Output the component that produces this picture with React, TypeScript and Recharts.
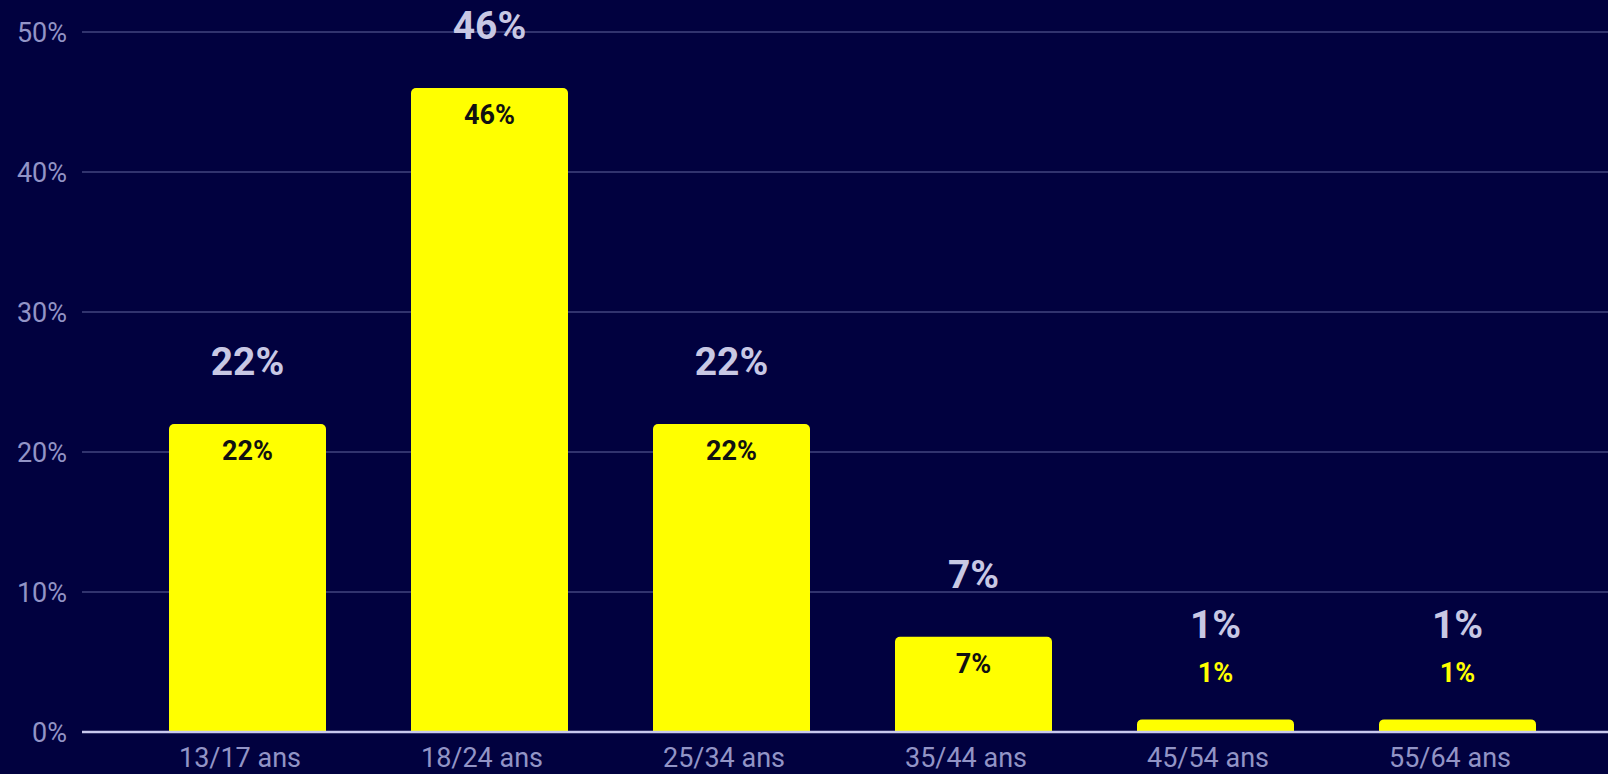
import React from "react";
import {
  BarChart,
  Bar,
  XAxis,
  YAxis,
  CartesianGrid,
  LabelList,
} from "recharts";

const ageGroups = ["13/17 ans", "18/24 ans", "25/34 ans", "35/44 ans", "45/54 ans", "55/64 ans"];
const shares = [22, 46, 22, 6.8, 0.9, 0.9];
const yTicks = [0, 10, 20, 30, 40, 50];

const data = ageGroups.map((name, i) => ({ name, share: shares[i] }));

const BG = "#01013f";
const FONT = "Roboto, sans-serif";

function BarLabels(props: any) {
  const { x, y, width, height, value } = props;
  const cx = x + width / 2;
  const txt = `${Math.round(Number(value))}%`;
  const small = height < 40;
  const innerY = small ? y - 46 : y + 27;
  const bigY = small ? y - 94 : y - 62;
  return (
    <g>
      <text
        x={cx}
        y={bigY}
        textAnchor="middle"
        dominantBaseline="central"
        fill="#c8c8e4"
        fontFamily={FONT}
        fontWeight={700}
        fontSize={39}
      >
        {txt}
      </text>
      <text
        x={cx}
        y={innerY}
        textAnchor="middle"
        dominantBaseline="central"
        fill={small ? "#ffff00" : "#111111"}
        fontFamily={FONT}
        fontWeight={700}
        fontSize={27}
      >
        {txt}
      </text>
    </g>
  );
}

export default function App() {
  return (
    <div style={{ position: "fixed", left: 0, top: 0, width: 1608, height: 774, background: BG }}>
      <BarChart
        width={1608}
        height={774}
        data={data}
        margin={{ top: 32, right: 0, bottom: 0, left: 0 }}
        barSize={157}
      >
        <CartesianGrid vertical={false} stroke="#42447f" strokeWidth={1.5} />
        <XAxis
          dataKey="name"
          height={42}
          padding={{ left: 44, right: 30 }}
          axisLine={{ stroke: "#c8c8ee", strokeWidth: 2.5 }}
          tickLine={false}
          tickMargin={10}
          interval={0}
          tick={{ fill: "#9294c6", fontSize: 27, fontFamily: FONT, dx: -7 }}
        />
        <YAxis
          width={82}
          domain={[0, 50]}
          ticks={yTicks}
          axisLine={false}
          tickLine={false}
          tickMargin={9}
          tickFormatter={(v: number) => `${v}%`}
          tick={{ fill: "#9294c6", fontSize: 27, fontFamily: FONT }}
        />
        <Bar dataKey="share" fill="#ffff00" radius={[5, 5, 0, 0]} isAnimationActive={false}>
          <LabelList dataKey="share" content={BarLabels} />
        </Bar>
      </BarChart>
    </div>
  );
}
